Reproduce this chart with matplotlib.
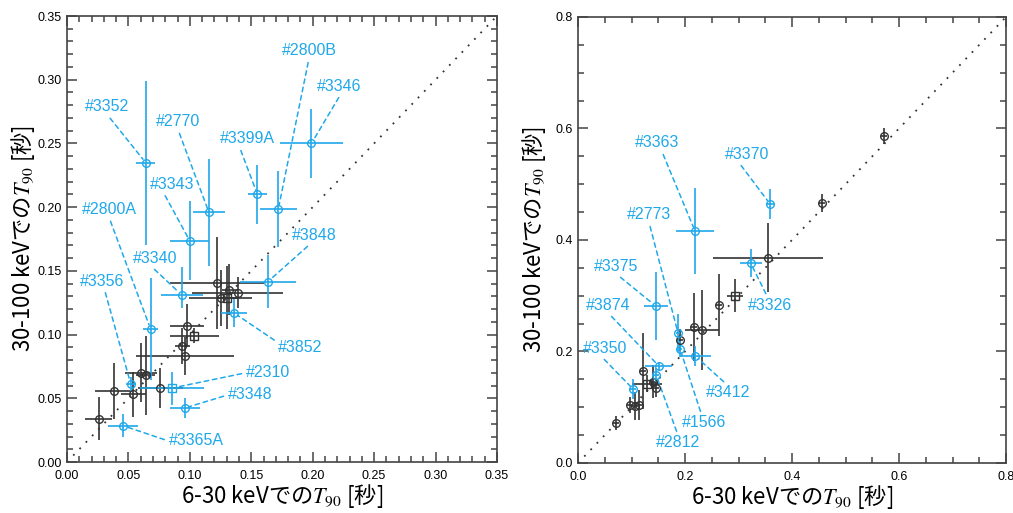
import matplotlib
matplotlib.use("Agg")
import matplotlib.pyplot as plt
from matplotlib.ticker import MultipleLocator, FormatStrFormatter

plt.rcParams['mathtext.fontset'] = 'stix'

BLUE = '#1fa8ea'
DARK = '#333333'

# ---- left panel: labelled (blue) bursts
left_names = ['#3352', '#2770', '#3343', '#3399A', '#2800B', '#3346', '#3848',
              '#3340', '#2800A', '#3356', '#2310', '#3348', '#3365A', '#3852']
left_x = [0.064, 0.1155, 0.100, 0.155, 0.172, 0.199, 0.1635,
          0.0935, 0.068, 0.052, 0.0855, 0.096, 0.0456, 0.136]
left_xerr = [0.008, 0.013, 0.016, 0.008, 0.015, 0.0255, 0.023,
             0.017, 0.0065, 0.004, 0.026, 0.012, 0.012, 0.0105]
left_y = [0.235, 0.196, 0.1735, 0.210, 0.1985, 0.250, 0.1415,
          0.131, 0.1045, 0.061, 0.058, 0.0424, 0.0285, 0.117]
left_yerr_lo = [0.065, 0.042, 0.031, 0.023, 0.030, 0.027, 0.021,
                0.010, 0.040, 0.006, 0.013, 0.0075, 0.009, 0.011]
left_yerr_hi = [0.064, 0.042, 0.031, 0.023, 0.030, 0.027, 0.021,
                0.022, 0.040, 0.006, 0.013, 0.0075, 0.009, 0.011]
left_square = ['#2310']

# ---- left panel: other (black) bursts
left_bx = [0.026, 0.038, 0.054, 0.060, 0.064, 0.076, 0.096, 0.094,
           0.0975, 0.1035, 0.122, 0.125, 0.130, 0.132, 0.139]
left_by = [0.034, 0.056, 0.053, 0.070, 0.068, 0.058, 0.083, 0.091,
           0.107, 0.099, 0.1405, 0.129, 0.129, 0.135, 0.133]
left_bxerr = [0.011, 0.015, 0.010, 0.013, 0.008, 0.0185, 0.040, 0.006,
              0.014, 0.020, 0.038, 0.026, 0.008, 0.006, 0.037]
left_byerr = [0.017, 0.022, 0.018, 0.023, 0.031, 0.016, 0.015, 0.014,
              0.017, 0.006, 0.036, 0.022, 0.025, 0.020, 0.012]
left_bsquare = [9, 12]

# ---- right panel: labelled (blue) bursts
right_names = ['#3363', '#3370', '#3326', '#3375', '#2773', '#1566',
               '#3412', '#3874', '#2812', '#3350']
right_x = [0.2187, 0.359, 0.323, 0.146, 0.187, 0.1907, 0.219, 0.151, 0.146, 0.103]
right_xerr = [0.035, 0.007, 0.020, 0.022, 0.004, 0.004, 0.029, 0.025, 0.006, 0.005]
right_y = [0.416, 0.4645, 0.358, 0.281, 0.233, 0.2045, 0.192, 0.174, 0.158, 0.1325]
right_yerr = [0.077, 0.027, 0.025, 0.061, 0.034, 0.015, 0.018, 0.008, 0.012, 0.018]

# ---- right panel: other (black) bursts
right_bx = [0.071, 0.097, 0.1065, 0.114, 0.1215, 0.129, 0.140, 0.146,
            0.1907, 0.2168, 0.232, 0.2635, 0.2935, 0.355, 0.456, 0.572]
right_by = [0.072, 0.104, 0.102, 0.104, 0.165, 0.142, 0.146, 0.134,
            0.221, 0.244, 0.238, 0.2835, 0.300, 0.368, 0.4665, 0.5865]
right_bxerr = [0.005, 0.006, 0.005, 0.006, 0.006, 0.028, 0.005, 0.005,
               0.005, 0.005, 0.032, 0.005, 0.015, 0.103, 0.006, 0.006]
right_byerr = [0.012, 0.015, 0.025, 0.027, 0.068, 0.015, 0.030, 0.015,
               0.020, 0.061, 0.072, 0.055, 0.030, 0.062, 0.016, 0.014]
right_bsquare = [5, 12]

# label placement (text centre, and which side the leader leaves from)
left_labels = {
    '#3352': (0.0326, 0.2787, (0.5, 0)), '#2770': (0.0903, 0.267, (0.5, 0)),
    '#3343': (0.0854, 0.218, (0.3, 0)), '#3399A': (0.147, 0.2535, (0.35, 0)),
    '#2800B': (0.197, 0.3226, (0.5, 0)), '#3346': (0.2213, 0.295, (0.55, 0)),
    '#3848': (0.201, 0.178, (0.45, 0)), '#3340': (0.0716, 0.160, (0.4, 0)),
    '#2800A': (0.0342, 0.198, (0.5, 0)), '#3356': (0.0285, 0.142, (0.55, 0)),
    '#2310': (0.1635, 0.070, (0, 0.5)), '#3348': (0.149, 0.0526, (0, 0.5)),
    '#3365A': (0.105, 0.0165, (0, 0.5)), '#3852': (0.190, 0.090, (0, 0.8)),
}
right_labels = {
    '#3363': (0.1477, 0.574, (0.6, 0)), '#3370': (0.316, 0.554, (0.3, 0)),
    '#3326': (0.359, 0.283, (0.45, 1)), '#3375': (0.071, 0.353, (0.5, 0)),
    '#2773': (0.1327, 0.445, (0.5, 0)), '#1566': (0.2355, 0.0718, (0.45, 1)),
    '#3412': (0.280, 0.1256, (0.5, 1)), '#3874': (0.056, 0.283, (0.5, 0)),
    '#2812': (0.187, 0.036, (0.5, 1)), '#3350': (0.0505, 0.206, (0.4, 0)),
}

LABEL_FONT = ['Liberation Sans', 'DejaVu Sans']
AXIS_FONT = ['Noto Sans CJK JP', 'DejaVu Sans']


def draw_point(ax, x, y, xerr, yerr, color, marker):
    ax.errorbar(x, y, xerr=xerr, yerr=yerr, fmt=marker, color=color,
                mfc='none', mec=color, ms=5.5, mew=1.0, elinewidth=1.2,
                capsize=0, zorder=3)


def setup(ax, lim, major, minor, fmt, ylab_x):
    ax.set_xlim(0, lim)
    ax.set_ylim(0, lim)
    ax.plot([0, lim], [0, lim], color=DARK, ls=(0, (1, 4)), lw=1.3, zorder=1)
    for a in (ax.xaxis, ax.yaxis):
        a.set_major_locator(MultipleLocator(major))
        a.set_minor_locator(MultipleLocator(minor))
        a.set_major_formatter(FormatStrFormatter(fmt))
    ax.tick_params(which='both', direction='in', top=True, right=True,
                   color='#444444', width=1.1, labelsize=9, pad=4)
    ax.tick_params(axis='x', which='both', pad=6)
    ax.tick_params(which='major', length=7)
    ax.tick_params(which='minor', length=4)
    for lab in ax.get_xticklabels() + ax.get_yticklabels():
        lab.set_family('Liberation Sans')
    for s in ax.spines.values():
        s.set_color('#444444')
        s.set_linewidth(1.2)
    ax.set_xlabel('6-30 keVでの$T_{90}$ [秒]', family=AXIS_FONT,
                  fontsize=16, labelpad=0)
    ax.set_ylabel('30-100 keVでの$T_{90}$ [秒]', family=AXIS_FONT,
                  fontsize=16)
    ax.yaxis.set_label_coords(ylab_x, 0.5)


def annotate(ax, labels, name, x, y):
    tx, ty, rel = labels[name]
    ax.annotate(name, xy=(x, y), xytext=(tx, ty), color=BLUE,
                family=LABEL_FONT, fontsize=11.5, ha='center', va='center',
                arrowprops=dict(arrowstyle='-', color=BLUE, ls=(0, (3, 2.5)),
                                lw=1.1, relpos=rel, shrinkA=1, shrinkB=3))


fig = plt.figure(figsize=(10.13, 5.13), dpi=100)
ax1 = fig.add_axes([0.0661, 0.0994, 0.4245, 0.8694])
ax2 = fig.add_axes([0.5706, 0.0975, 0.4225, 0.8694])

setup(ax1, 0.35, 0.05, 0.01, '%.2f', -0.07)
for i in range(len(left_bx)):
    draw_point(ax1, left_bx[i], left_by[i], left_bxerr[i], left_byerr[i], DARK,
               's' if i in left_bsquare else 'o')
for i, name in enumerate(left_names):
    draw_point(ax1, left_x[i], left_y[i], left_xerr[i],
               [[left_yerr_lo[i]], [left_yerr_hi[i]]], BLUE,
               's' if name in left_square else 'o')
    annotate(ax1, left_labels, name, left_x[i], left_y[i])

setup(ax2, 0.8, 0.2, 0.05, '%.1f', -0.07)
for i in range(len(right_bx)):
    draw_point(ax2, right_bx[i], right_by[i], right_bxerr[i], right_byerr[i], DARK,
               's' if i in right_bsquare else 'o')
for i, name in enumerate(right_names):
    draw_point(ax2, right_x[i], right_y[i], right_xerr[i], right_yerr[i], BLUE, 'o')
    annotate(ax2, right_labels, name, right_x[i], right_y[i])

fig.savefig('out.png', dpi=100)
